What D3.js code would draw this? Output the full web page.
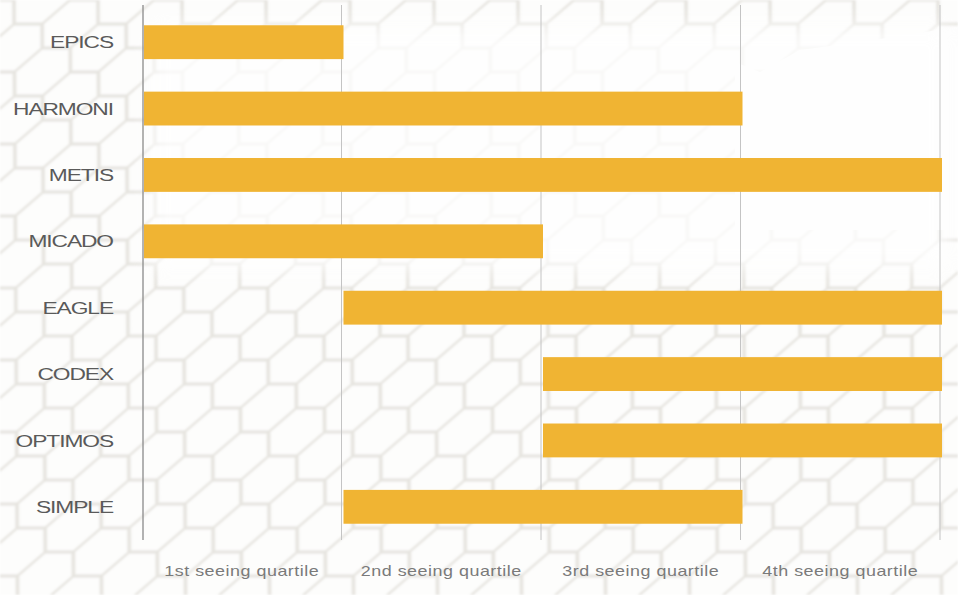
<!DOCTYPE html>
<html><head><meta charset="utf-8">
<script src="https://cdn.jsdelivr.net/npm/d3@7"></script>
<style>html,body{margin:0;padding:0;background:#fff;}svg{display:block;}</style>
</head><body>
<script>
const instruments = ["EPICS","HARMONI","METIS","MICADO","EAGLE","CODEX","OPTIMOS","SIMPLE"];
const startQuartile = [0,0,0,0,1,2,2,1];
const endQuartile = [1,3,4,2,4,4,4,3];
const quartileLabels = ["1st seeing quartile","2nd seeing quartile","3rd seeing quartile","4th seeing quartile"];

const W = 958, H = 595;
const svg = d3.select("body").append("svg").attr("width", W).attr("height", H);

// decorative honeycomb background
const defs = svg.append("defs");
const pat = defs.append("pattern").attr("id","hex").attr("patternUnits","userSpaceOnUse")
  .attr("width",84).attr("height",48).attr("patternTransform","skewX(-30)");
pat.append("rect").attr("width",84).attr("height",48).attr("fill","#fdfdfc");
pat.append("path").attr("d","M0,0 L14,0 L28,24 L14,48 L0,48 M28,24 L56,24 L70,0 L84,0 M70,48 L56,24 M70,48 L84,48")
  .attr("fill","none").attr("stroke","#e6e4df").attr("stroke-width",3);
defs.append("filter").attr("id","blur").append("feGaussianBlur").attr("stdDeviation",1.3);
const blur2 = defs.append("filter").attr("id","blur2").attr("x","-20%").attr("y","-20%").attr("width","140%").attr("height","140%");
blur2.append("feGaussianBlur").attr("stdDeviation",10);
svg.append("rect").attr("width",W).attr("height",H).attr("fill","url(#hex)").attr("filter","url(#blur)");
// lighter areas
svg.append("path").attr("d","M735,62 L760,72 L800,50 L860,42 L958,27 L958,230 L735,230 Z")
  .attr("fill","#fdfdfd");
svg.append("rect").attr("x",150).attr("y",25).attr("width",800).attr("height",245)
  .attr("fill","#ffffff").attr("opacity",0.75).attr("filter","url(#blur2)");

const x = d3.scaleLinear().domain([0,4]).range([143,941]);
const y = d3.scaleBand().domain(instruments).range([9,540]).paddingInner(0.49).paddingOuter(0.245);

const g = svg.append("g");

// gridlines
g.selectAll("line.grid").data(d3.range(1,5)).join("line")
  .attr("x1", d => x(d)-1).attr("x2", d => x(d)-1)
  .attr("y1",5).attr("y2",540).attr("stroke","#c4c4c4").attr("stroke-width",1);
// left axis
g.append("line").attr("x1",x(0)).attr("x2",x(0)).attr("y1",5).attr("y2",540)
  .attr("stroke","#8a8a8a").attr("stroke-width",1.3);

// bars
g.selectAll("rect.bar").data(instruments).join("rect")
  .attr("x",(d,i)=>x(startQuartile[i])+1)
  .attr("y",d=>y(d))
  .attr("width",(d,i)=>x(endQuartile[i])-x(startQuartile[i]))
  .attr("height",y.bandwidth())
  .attr("fill","#F0B433");

// y labels (horizontally stretched like the reference)
g.selectAll("text.ylab").data(instruments).join("text")
  .attr("transform",d=>`translate(113,${y(d)+y.bandwidth()/2}) scale(1.34,1)`)
  .attr("text-anchor","end").attr("dy","0.36em")
  .attr("font-family","Liberation Sans, Arial, sans-serif").attr("font-size",17)
  .attr("letter-spacing","-0.8").attr("fill","#5a5a5a").text(d=>d);

// x labels
g.selectAll("text.xlab").data(quartileLabels).join("text")
  .attr("transform",(d,i)=>`translate(${x(i+0.5)-1},576) scale(1.28,1)`)
  .attr("text-anchor","middle")
  .attr("font-family","Liberation Sans, Arial, sans-serif").attr("font-size",14)
  .attr("letter-spacing","0.4").attr("fill","#7a7a7a").text(d=>d);
</script>
</body></html>
